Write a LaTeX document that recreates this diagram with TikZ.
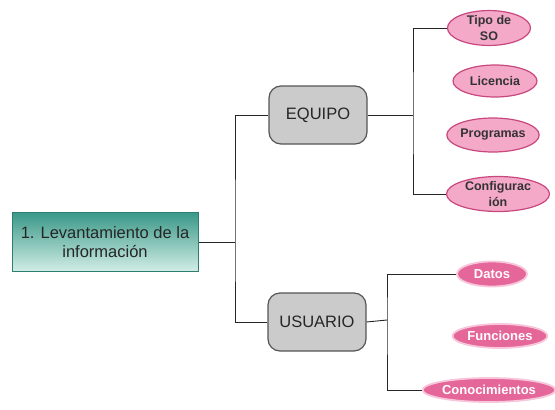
\documentclass[tikz,border=0pt]{standalone}
\usepackage{fontspec}
\setmainfont{Liberation Sans}
\usetikzlibrary{shapes.geometric}
\definecolor{tealtop}{HTML}{3A9888}
\definecolor{tealbot}{HTML}{D2EEE6}
\definecolor{tealline}{HTML}{2E7D70}
\definecolor{greyfill}{HTML}{CBCBCB}
\definecolor{greyline}{HTML}{555555}
\definecolor{pinklight}{HTML}{F4A9C9}
\definecolor{pinkline}{HTML}{C8487E}
\definecolor{pinkdark}{HTML}{E5679A}
\definecolor{pinkglow}{HTML}{F7C6DA}
\tikzset{
  rootbox/.style={draw=tealline, line width=1pt, top color=tealtop, bottom color=tealbot,
    minimum width=186pt, minimum height=59pt, align=center, font=\fontsize{16.5}{19}\selectfont, text=black!85},
  groupbox/.style={draw=greyline, line width=1.2pt, fill=greyfill, rounded corners=12pt,
    minimum width=98pt, minimum height=58pt, font=\fontsize{16.5}{19}\selectfont, text=black!85},
  leafA/.style={ellipse, draw=pinkline, line width=1.2pt, fill=pinklight, inner sep=0pt,
    align=center, font=\bfseries\fontsize{12.5}{15.5}\selectfont, text=black!80},
  leafB/.style={ellipse, draw=pinkglow, line width=1.8pt, fill=pinkdark, inner sep=0pt,
    align=center, font=\bfseries\fontsize{13}{15}\selectfont, text=white},
  link/.style={draw=black!85, line width=0.9pt}
}
\begin{document}
\begin{tikzpicture}[x=1pt, y=-1pt]
\useasboundingbox (0,0) rectangle (555,410);
% root and the two groups
\node[rootbox] (root) at (105,242) {1. Levantamiento de la\\información};
\node[groupbox] (equipo) at (318,115) {EQUIPO};
\node[groupbox] (usuario) at (317,322) {USUARIO};
% leaves of EQUIPO
\node[leafA, minimum width=83pt, minimum height=31pt] (tipo) at (489,28) {Tipo de\\SO};
\node[leafA, minimum width=84pt, minimum height=32pt] (lic) at (495,81) {Licencia};
\node[leafA, minimum width=80pt, minimum height=34pt] (prog) at (493,135) {Programas};
\node[leafA, minimum width=103pt, minimum height=35pt] (conf) at (498,194) {Configurac\\ión};
% leaves of USUARIO
\node[leafB, minimum width=70pt, minimum height=25pt] (datos) at (492,274) {Datos};
\node[leafB, minimum width=95pt, minimum height=24pt] (func) at (500,336) {Funciones};
\node[leafB, minimum width=132pt, minimum height=24pt] (cono) at (489,390) {Conocimientos};
% branch points
\coordinate (j0) at (235,242);
\coordinate (j1) at (413,115);
\coordinate (j2) at (387,320);
% connectors
\draw[link] (root.east) -- (j0);
\draw[link] (equipo.west) -| (j0) |- (usuario.west);
\draw[link] (equipo.east) -- (j1);
\draw[link] (tipo.west) -| (j1) |- (conf.west);
\draw[link] (usuario.east) -- (j2);
\draw[link] (datos.west) -| (j2) |- (cono.west);
\end{tikzpicture}
\end{document}
